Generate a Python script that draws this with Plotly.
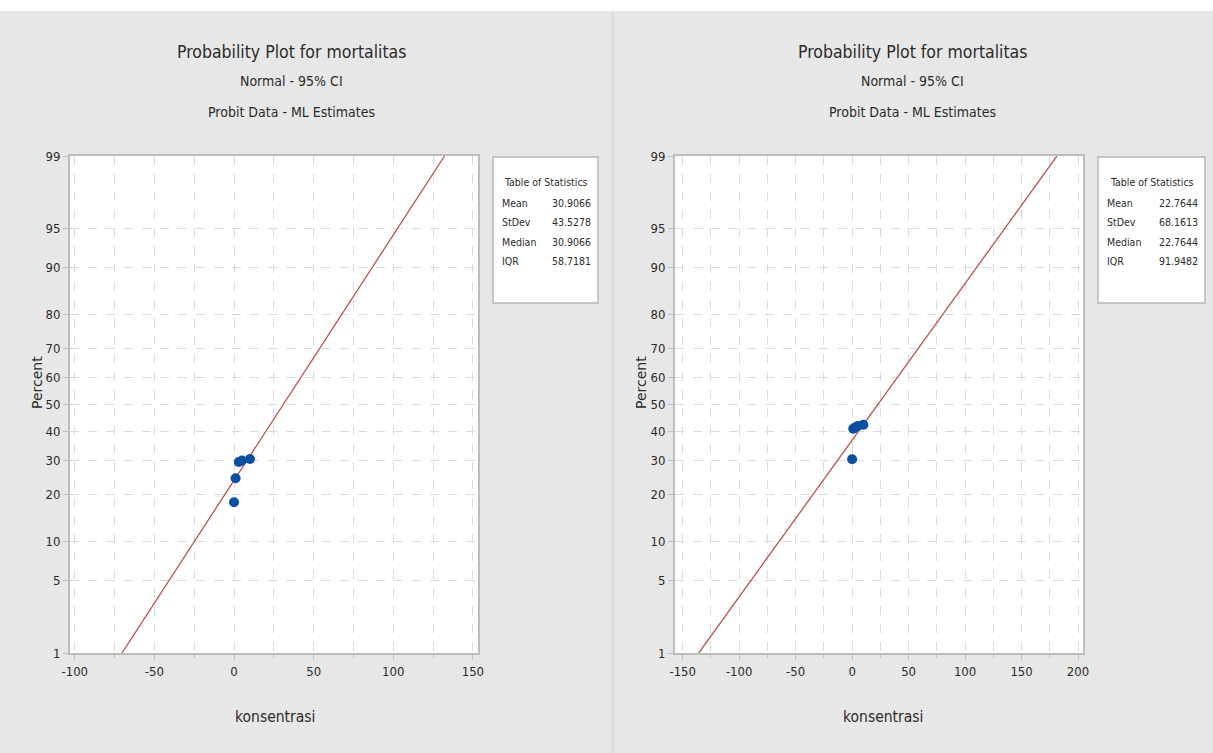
import plotly.graph_objects as go
from statistics import NormalDist

# ---------------- data ----------------
percent_ticks = [1, 5, 10, 20, 30, 40, 50, 60, 70, 80, 90, 95, 99]

left_konsentrasi = [0, 1, 3, 5, 10]
left_percent = [18, 24.5, 29.5, 30, 30.5]
left_stats_labels = ["Mean", "StDev", "Median", "IQR"]
left_stats_values = ["30.9066", "43.5278", "30.9066", "58.7181"]
left_mean, left_sd = 30.9066, 43.5278

right_konsentrasi = [0, 1, 2.5, 5, 10]
right_percent = [30.4, 41, 41.5, 42, 42.5]
right_stats_labels = ["Mean", "StDev", "Median", "IQR"]
right_stats_values = ["22.7644", "68.1613", "22.7644", "91.9482"]
right_mean, right_sd = 22.7644, 68.1613

left_xticks = [-100, -50, 0, 50, 100, 150]
right_xticks = [-150, -100, -50, 0, 50, 100, 150, 200]

# ---------------- helpers ----------------
W, H = 1213, 753
nd = NormalDist()


def z(p):
    return nd.inv_cdf(p / 100.0)


def px(x):
    return x / W


def py(y):
    return 1 - y / H


FONT = "Liberation Sans Narrow, Arial Narrow, DejaVu Sans Condensed, sans-serif"
BG = "#e7e7e7"
FRAME = "#bdbdbd"
GRID = "#dadada"
TXT = "#2b2b2b"
LINE = "#b5554d"
DOT = "#0b4ea2"

fig = go.Figure()

panels = [
    dict(xa="x", ya="y", xk="xaxis", yk="yaxis", kons=left_konsentrasi, pct=left_percent,
         mean=left_mean, sd=left_sd, dom=(70, 478), rng=(-103, 153.2), xt=left_xticks,
         tcx=291, box=(493, 598), labs=left_stats_labels, vals=left_stats_values,
         xlab=275, ylabx=37),
    dict(xa="x2", ya="y2", xk="xaxis2", yk="yaxis2", kons=right_konsentrasi, pct=right_percent,
         mean=right_mean, sd=right_sd, dom=(675, 1083), rng=(-156.8, 204.4), xt=right_xticks,
         tcx=912, box=(1098, 1205), labs=right_stats_labels, vals=right_stats_values,
         xlab=883, ylabx=641),
]

PLOT_TOP, PLOT_BOT = 156, 653
zr = [z(1), z(99)]

shapes = []
annotations = []


def note(text, x, y, size, family=FONT, xanchor="center", angle=0):
    annotations.append(dict(text=text, x=px(x), y=py(y), xref="paper", yref="paper",
                            xanchor=xanchor, yanchor="middle", showarrow=False, textangle=angle,
                            font=dict(family=family, size=size, color=TXT)))


# top white strip and panel separator
shapes.append(dict(type="rect", xref="paper", yref="paper", x0=0, x1=1, y0=py(11), y1=1,
                   fillcolor="white", line=dict(width=0), layer="below"))
shapes.append(dict(type="line", xref="paper", yref="paper", x0=px(613), x1=px(613),
                   y0=0, y1=py(11), line=dict(color="#d2d2d2", width=1)))

for p in panels:
    # fitted line from the estimated mean / stdev
    line_z = [z(1), z(99)]
    line_x = [p["mean"] + p["sd"] * v for v in line_z]
    fig.add_trace(go.Scatter(x=line_x, y=line_z, mode="lines", xaxis=p["xa"], yaxis=p["ya"],
                             line=dict(color=LINE, width=1.3), hoverinfo="skip", showlegend=False))
    fig.add_trace(go.Scatter(x=p["kons"], y=[z(v) for v in p["pct"]], mode="markers",
                             xaxis=p["xa"], yaxis=p["ya"],
                             marker=dict(color=DOT, size=10, line=dict(width=0)), showlegend=False))

    fig.update_layout({
        p["xk"]: dict(domain=[px(p["dom"][0]), px(p["dom"][1])], range=list(p["rng"]),
                      anchor=p["ya"], tickvals=p["xt"], ticktext=[str(t) for t in p["xt"]],
                      automargin=False,
                      ticks="outside", ticklen=5, tickcolor=FRAME, showline=True, mirror=True,
                      linecolor=FRAME, linewidth=2, showgrid=True, gridcolor=GRID, griddash="dash",
                      gridwidth=1, zeroline=False,
                      minor=dict(dtick=25, tick0=0, ticks="outside", ticklen=3, tickcolor=FRAME,
                                 showgrid=True, gridcolor=GRID, griddash="dash"),
                      tickfont=dict(family=FONT, size=13, color=TXT)),
        p["yk"]: dict(domain=[py(PLOT_BOT), py(PLOT_TOP)], range=zr, anchor=p["xa"],
                      tickvals=[z(v) for v in percent_ticks],
                      ticktext=[str(v) for v in percent_ticks],
                      automargin=False,
                      ticks="outside", ticklen=5, tickcolor=FRAME, showline=True, mirror=True,
                      linecolor=FRAME, linewidth=2, showgrid=True, gridcolor=GRID, griddash="dash",
                      gridwidth=1, zeroline=False,
                      tickfont=dict(family=FONT, size=13, color=TXT)),
    })

    # titles
    note("Probability Plot for mortalitas", p["tcx"], 52, 17.5)
    note("Normal - 95% CI", p["tcx"], 81, 14)
    note("Probit Data - ML Estimates", p["tcx"], 112, 14)
    # axis titles
    note("konsentrasi", p["xlab"], 717, 15.5)
    note("Percent", p["ylabx"], 383, 14, family="DejaVu Sans", angle=-90)

    # statistics box
    bx0, bx1 = p["box"]
    shapes.append(dict(type="rect", xref="paper", yref="paper", x0=px(bx0), x1=px(bx1),
                       y0=py(303), y1=py(157), fillcolor="white",
                       line=dict(color="#b8b8b8", width=1.5)))
    note("Table of Statistics", (bx0 + bx1) / 2, 182, 10.5)
    for i, (lab, val) in enumerate(zip(p["labs"], p["vals"])):
        yy = 203 + 19.3 * i
        note(lab, bx0 + 7, yy, 10.5, xanchor="left")
        note(val, bx1 - 5, yy, 10.5, xanchor="right")

fig.update_layout(width=W, height=H, margin=dict(l=0, r=0, t=0, b=0, autoexpand=False),
                  paper_bgcolor=BG, plot_bgcolor="white", showlegend=False,
                  shapes=shapes, annotations=annotations)

fig.write_html("out.html")
